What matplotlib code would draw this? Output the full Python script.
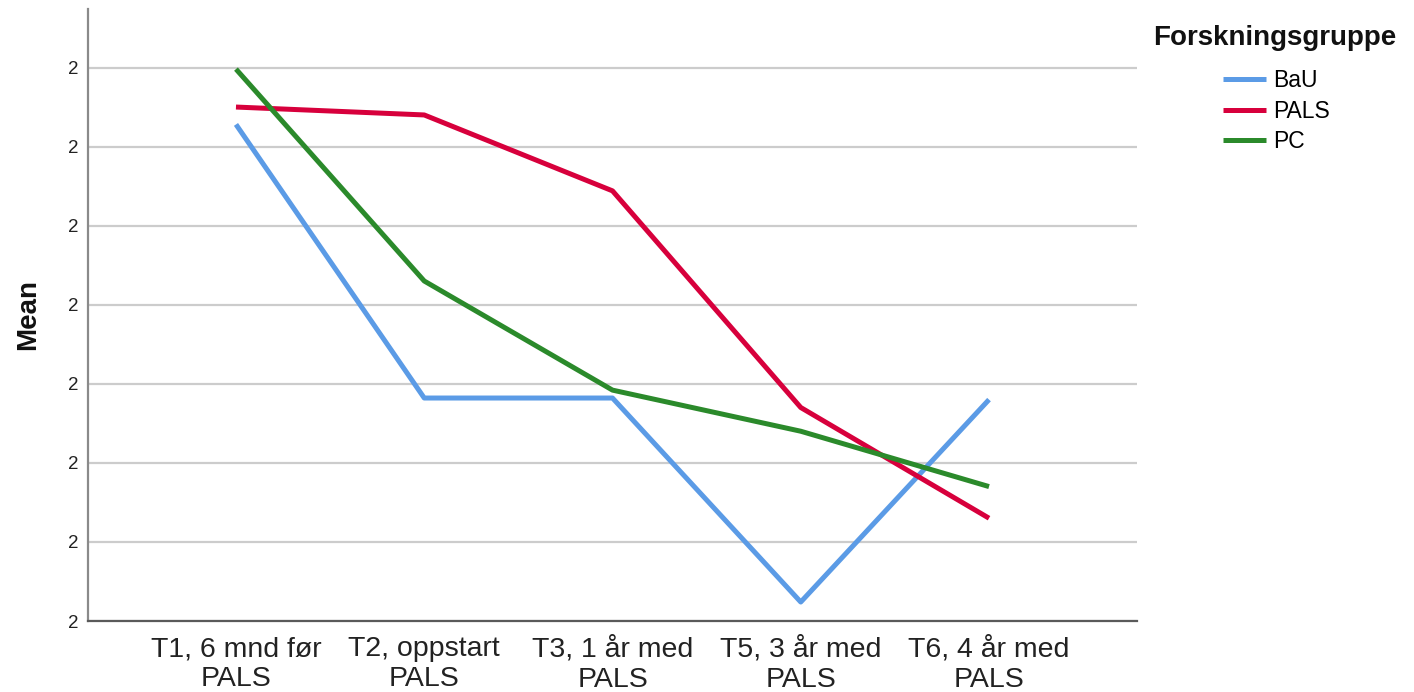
import matplotlib
matplotlib.use("Agg")
import matplotlib.pyplot as plt
from matplotlib.ticker import FormatStrFormatter

plt.rcParams['font.family'] = ['Liberation Sans', 'DejaVu Sans']

categories = ["T1, 6 mnd før\nPALS", "T2, oppstart\nPALS", "T3, 1 år med\nPALS",
              "T5, 3 år med\nPALS", "T6, 4 år med\nPALS"]
bau = [2.114, 1.941, 1.941, 1.812, 1.940]
pals = [2.125, 2.120, 2.072, 1.935, 1.865]
pc = [2.149, 2.015, 1.946, 1.920, 1.885]
y_ticks = [1.80, 1.85, 1.90, 1.95, 2.00, 2.05, 2.10, 2.15]
series_names = ["BaU", "PALS", "PC"]
colors = ["#5b9be6", "#d7003c", "#2b8a2b"]

fig = plt.figure(figsize=(14.14, 6.92), dpi=100)
ax = fig.add_axes([88/1414, 71/692, (1137-88)/1414, (621-9)/692])

x = list(range(len(categories)))
lines = []
for vals, name, c in zip([bau, pals, pc], series_names, colors):
    ln, = ax.plot(x, vals, color=c, lw=3.6, label=name, solid_capstyle='butt', zorder=3)
    lines.append(ln)

ax.set_xlim(-0.786, 4.786)
ax.set_ylim(1.80, 2.187)
ax.set_yticks(y_ticks)
ax.yaxis.set_major_formatter(FormatStrFormatter('%.0f'))
ax.set_xticks(x)
ax.set_xticklabels(categories, fontsize=20.5, color='#222222', linespacing=1.2)
ax.tick_params(axis='x', length=0, pad=11)
ax.tick_params(axis='y', length=0, pad=7, labelsize=13.5, labelcolor='#222222')
ax.grid(axis='y', color='#cccccc', lw=1.6, zorder=1)
ax.set_axisbelow(True)
for s in ['top', 'right']:
    ax.spines[s].set_visible(False)
ax.spines['left'].set_color('#8a8a8a')
ax.spines['left'].set_linewidth(1.6)
ax.spines['bottom'].set_color('#5a5a5a')
ax.spines['bottom'].set_linewidth(1.6)
ax.set_ylabel("Mean", fontsize=20, fontweight='bold', labelpad=19, color='#111111')

fig.text(1153/1414, 1 - 45/692, "Forskningsgruppe", fontsize=20, fontweight='bold',
         ha='left', va='baseline', color='#111111')
fig.legend(handles=lines, labels=series_names, loc='upper left',
           bbox_to_anchor=(1223/1414, 1 - 69/692), frameon=False, fontsize=16.5,
           handlelength=1.88, handletextpad=0.3, labelspacing=0.33, borderaxespad=0,
           borderpad=0)

fig.savefig("out.png", dpi=100)
